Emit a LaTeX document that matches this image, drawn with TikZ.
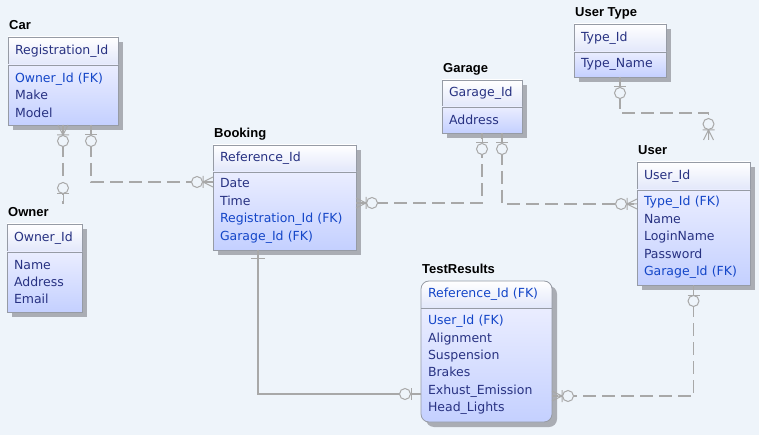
\documentclass[tikz,border=0pt]{standalone}
\usepackage{fontspec}
\newfontfamily\entfont{DejaVu Sans}
\newfontfamily\titfont{Liberation Sans}
\usetikzlibrary{positioning, calc, shadows}
\definecolor{bgc}{RGB}{238,244,250}
\definecolor{hdrc}{RGB}{226,231,250}
\definecolor{bodyt}{RGB}{234,237,255}
\definecolor{bodyb}{RGB}{196,208,255}
\definecolor{bordc}{RGB}{150,155,165}
\definecolor{shadc}{RGB}{170,173,180}
\definecolor{relc}{RGB}{168,168,168}
\definecolor{pkc}{RGB}{40,50,130}
\definecolor{fkc}{RGB}{20,70,200}
\pgfdeclarelayer{back}
\pgfsetlayers{back,main}
\tikzset{%
    ebox/.style={%
        rectangle,
        anchor=north west,
        inner xsep=7pt,
        inner ysep=2pt,
        outer sep=0pt,
        align=left,
        text=pkc,
        font=\entfont\fontsize{12.5}{17.4}\selectfont
    },
    eshadow/.style={%
        drop shadow={shadow xshift=5pt, shadow yshift=-5pt, fill=shadc, opacity=1}
    },
    ehead/.style={%
        ebox, eshadow,
        draw=bordc, line width=0.8pt,
        top color=white, bottom color=hdrc,
        text height=9.5pt, text depth=3pt
    },
    ebody/.style={%
        ebox, eshadow,
        draw=bordc, line width=0.8pt,
        top color=bodyt, bottom color=bodyb
    },
    etitle/.style={%
        anchor=base west,
        inner sep=0pt,
        font=\titfont\bfseries\fontsize{13}{15}\selectfont
    },
    rel/.style={draw=relc, line width=1.1pt},
    nonid/.style={rel, dash pattern=on 13pt off 6pt},
    sym/.style={draw=relc, line width=1pt, solid},
    zeromany/.pic={%
        \draw[sym] (-5,0) -- (0,10) -- (5,0) (0,0) -- (0,10) (-6,10) -- (6,10);
        \draw[sym, fill=bgc] (0,16) circle[radius=5.5];
    },
    zeroone/.pic={%
        \draw[sym] (0,0) -- (0,10) (-6,10) -- (6,10);
        \draw[sym, fill=bgc] (0,16) circle[radius=5.5];
    },
    justone/.pic={%
        \draw[sym] (0,0) -- (0,10) (-7,9) -- (7,9);
    }
}

\begin{document}
\begin{tikzpicture}[x=1pt, y=-1pt]
\useasboundingbox (0,0) rectangle (759,435);
\begin{pgfonlayer}{back}
    \fill[bgc] (0,0) rectangle (759,435);
\end{pgfonlayer}

% Car
\node[ehead, text width=96pt, minimum height=28pt] (carh) at (8,37) {Registration\_Id};
\node[ebody, text width=96pt, minimum height=60pt, below=0pt of carh] (carb)
    {\textcolor{fkc}{Owner\_Id (FK)}\\Make\\Model};
\node[etitle] (cart) at ([xshift=1pt, yshift=7.5pt]carh.north west) {Car};

% Owner
\node[ehead, text width=61pt, minimum height=28pt] (ownh) at (7,224) {Owner\_Id};
\node[ebody, text width=61pt, minimum height=60pt, below=0pt of ownh] (ownb)
    {Name\\Address\\Email};
\node[etitle] (ownt) at ([xshift=1pt, yshift=7.5pt]ownh.north west) {Owner};

% Booking
\node[ehead, text width=129pt, minimum height=27pt] (bkh) at (213,145) {Reference\_Id};
\node[ebody, text width=129pt, minimum height=78pt, below=0pt of bkh] (bkb)
    {Date\\Time\\\textcolor{fkc}{Registration\_Id (FK)}\\\textcolor{fkc}{Garage\_Id (FK)}};
\node[etitle] (bkt) at ([xshift=1pt, yshift=7.5pt]bkh.north west) {Booking};

% Garage
\node[ehead, text width=66pt, minimum height=27pt] (gah) at (442,80) {Garage\_Id};
\node[ebody, text width=66pt, minimum height=26pt, below=0pt of gah] (gab) {Address};
\node[etitle] (gat) at ([xshift=1pt, yshift=7.5pt]gah.north west) {Garage};

% User Type
\node[ehead, text width=78pt, minimum height=28pt] (uth) at (574,24) {Type\_Id};
\node[ebody, text width=78pt, minimum height=25pt, below=0pt of uth] (utb) {Type\_Name};
\node[etitle] (utt) at ([xshift=1pt, yshift=7.5pt]uth.north west) {User Type};

% User
\node[ehead, text width=99pt, minimum height=28pt] (ush) at (637,162) {User\_Id};
\node[ebody, text width=99pt, minimum height=95pt, below=0pt of ush] (usb)
    {\textcolor{fkc}{Type\_Id (FK)}\\Name\\LoginName\\Password\\\textcolor{fkc}{Garage\_Id (FK)}};
\node[etitle] (ust) at ([xshift=1pt, yshift=7.5pt]ush.north west) {User};

% TestResults (rounded, frame drawn behind)
\node[ebox, text=fkc, text width=117pt, minimum height=27pt, text height=9.5pt, text depth=3pt]
    (trh) at (421,281) {Reference\_Id (FK)};
\node[ebox, text width=117pt, minimum height=114pt, below=0pt of trh] (trb)
    {\textcolor{fkc}{User\_Id (FK)}\\Alignment\\Suspension\\Brakes\\Exhust\_Emission\\Head\_Lights};
\node[etitle] (trt) at ([xshift=1pt, yshift=7.5pt]trh.north west) {TestResults};
\begin{pgfonlayer}{back}
    \fill[shadc, rounded corners=8pt]
        ([shift={(5pt,-5pt)}]trh.north west) rectangle ([shift={(5pt,-5pt)}]trb.south east);
    \begin{scope}
        \clip[rounded corners=8pt] (trh.north west) rectangle (trb.south east);
        \shade[top color=white, bottom color=hdrc] (trh.north west) rectangle (trh.south east);
        \shade[top color=bodyt, bottom color=bodyb] (trb.north west) rectangle (trb.south east);
    \end{scope}
    \draw[bordc, line width=0.8pt, rounded corners=8pt] (trh.north west) rectangle (trb.south east);
    \draw[bordc, line width=0.8pt] (trh.south west) -- (trh.south east);
\end{pgfonlayer}

% relationships
\coordinate (co) at ($(carb.south |- ownh.north)+(0,-20)$);
\draw[nonid] (carb.south) -- (co);
\pic at (carb.south) {zeromany};
\pic[rotate=180] at (co) {zeroone};

\coordinate (cr) at ($(carb.south)+(28,0)$);
\coordinate (br) at ($(bkb.north west)+(0,10)$);
\draw[nonid] (cr) |- (br);
\pic at (cr) {zeroone};
\pic[rotate=-90] at (br) {zeromany};

\coordinate (bg) at ($(bkb.north east)+(0,31)$);
\draw[nonid] (bg) -| (gab.south);
\pic[rotate=90] at (bg) {zeromany};
\pic at (gab.south) {zeroone};

\coordinate (gu) at ($(gab.south)+(20,0)$);
\coordinate (ug) at ($(usb.north west)+(0,14)$);
\draw[nonid] (gu) |- (ug);
\pic at (gu) {zeroone};
\pic[rotate=-90] at (ug) {zeromany};

\coordinate (ut) at ($(ush.north)+(15,-22)$);
\draw[nonid] (utb.south) -- ++(0,36) -| (ut);
\pic at (utb.south) {zeroone};
\pic[rotate=180] at (ut) {zeromany};

\coordinate (bt) at ($(bkb.south west)+(45,0)$);
\coordinate (tb) at ($(trb.north west)+(0,86)$);
\draw[rel] (bt) |- (tb);
\pic at (bt) {justone};
\pic[rotate=-90] at (tb) {zeroone};

\coordinate (tu) at ($(trb.north east)+(0,88)$);
\draw[nonid] (usb.south) |- (tu);
\pic at (usb.south) {zeroone};
\pic[rotate=90] at (tu) {zeromany};
\end{tikzpicture}
\end{document}
